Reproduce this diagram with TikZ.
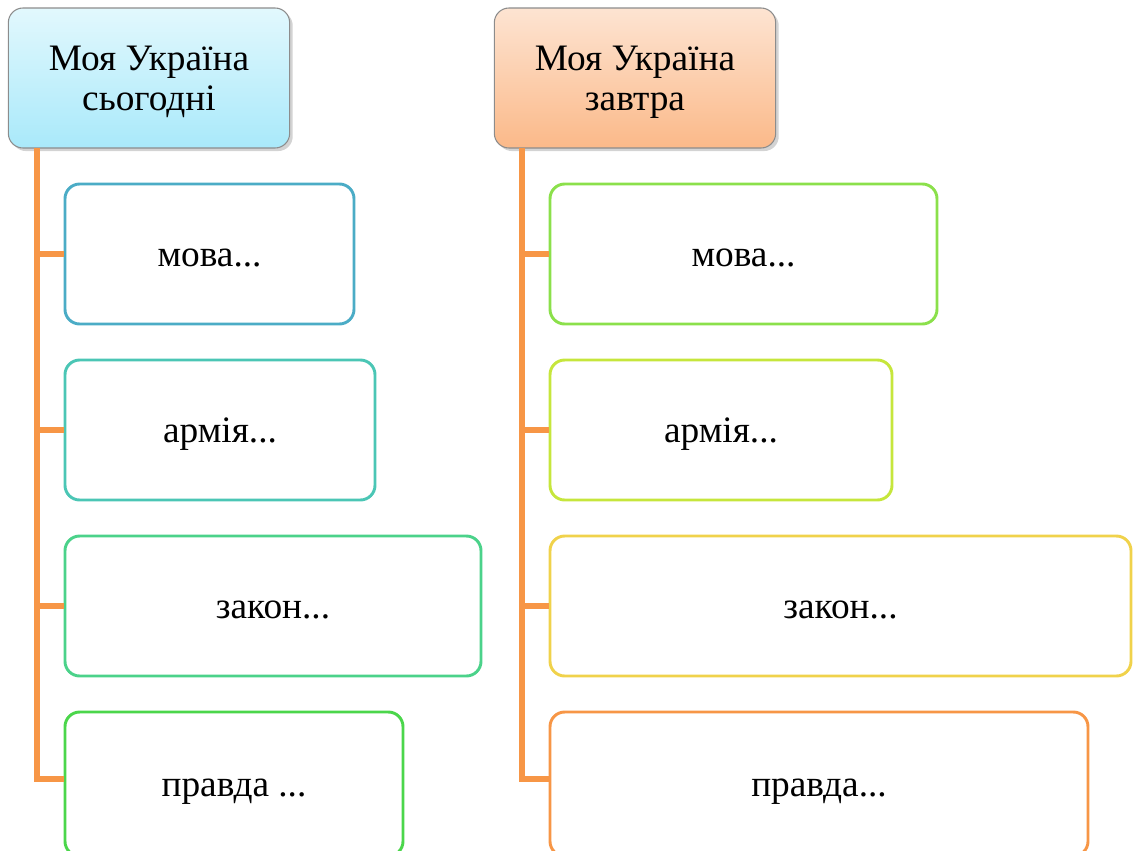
\documentclass[tikz,border=0pt]{standalone}
\usepackage{fontspec}
\setmainfont{Liberation Serif}
\usepackage{xcolor}
\usetikzlibrary{shadows}

\definecolor{spineor}{HTML}{F79646}
\definecolor{hdblue}{HTML}{A9E9FA}
\definecolor{hdbluetop}{HTML}{E2F8FD}
\definecolor{hdpeach}{HTML}{FBB989}
\definecolor{hdpeachtop}{HTML}{FDE4D2}
\definecolor{ca}{HTML}{4BACC6}
\definecolor{cb}{HTML}{4BC6B5}
\definecolor{cc}{HTML}{4BD28A}
\definecolor{cd}{HTML}{4BD64B}
\definecolor{ce}{HTML}{8BE04B}
\definecolor{cf}{HTML}{C6E63C}
\definecolor{cg}{HTML}{F0D24B}
\definecolor{ch}{HTML}{F79646}

\tikzset{
  head/.style={draw=black!45, line width=0.8pt, rounded corners=11pt,
    minimum width=211pt, minimum height=105pt, align=center,
    text height=50pt, text depth=2pt,
    font=\fontsize{28}{30}\selectfont, drop shadow={opacity=0.35}},
  item/.style={draw=#1, line width=2.2pt, rounded corners=11pt, fill=white,
    minimum height=105pt, text height=18pt, text depth=0pt,
    font=\fontsize{28}{31}\selectfont},
  spine/.style={spineor, line width=4.5pt}
}

\begin{document}
\begin{tikzpicture}[x=0.75pt, y=-0.75pt]
\clip (0,0) rectangle (1134,850);
\useasboundingbox (0,0) rectangle (1134,850);

% headers
\node (h1) [head, top color=hdbluetop, bottom color=hdblue] at (149,78) {Моя Україна\\сьогодні};
\node (h2) [head, top color=hdpeachtop, bottom color=hdpeach] at (635,78) {Моя Україна\\завтра};

% left column
\node (l1) [item=ca, minimum width=216.75pt] at (209.5,254) {мова...};
\node (l2) [item=cb, minimum width=232.5pt] at (220,430) {армія...};
\node (l3) [item=cc, minimum width=312pt] at (273,606) {закон...};
\node (l4) [item=cd, minimum width=253.5pt, minimum height=108pt] at (234,784) {правда ...};

% right column
\node (r1) [item=ce, minimum width=290.25pt] at (743.5,254) {мова...};
\node (r2) [item=cf, minimum width=256.5pt] at (721,430) {армія...};
\node (r3) [item=cg, minimum width=435.75pt] at (840.5,606) {закон...};
\node (r4) [item=ch, minimum width=403.5pt, minimum height=108pt] at (819,784) {правда...};

\coordinate (ls) at (37,148);
\coordinate (rs) at (522,148);

\foreach \b in {l1,l2,l3} \draw[spine] (ls) |- (\b.west);
\foreach \b in {r1,r2,r3} \draw[spine] (rs) |- (\b.west);
\draw[spine] (ls) |- ([yshift=-51pt]l4.north west);
\draw[spine] (rs) |- ([yshift=-51pt]r4.north west);
\end{tikzpicture}
\end{document}
